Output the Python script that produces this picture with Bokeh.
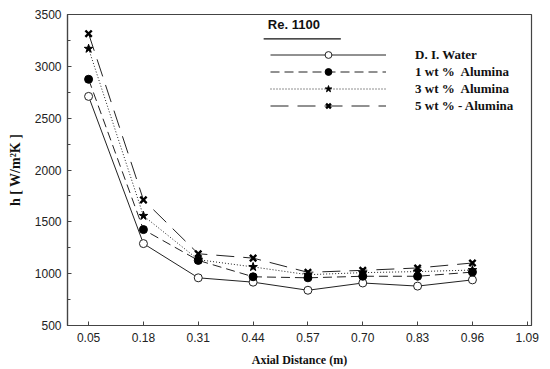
from bokeh.plotting import figure
from bokeh.models import (Range1d, FixedTicker, Legend, LegendItem, Label,
                          BoxAnnotation, PrintfTickFormatter)
from bokeh.embed import file_html
from bokeh.resources import INLINE

# ---- data ----
x_dist = [0.05, 0.18, 0.31, 0.44, 0.57, 0.70, 0.83, 0.96]
di_water = [2710, 1290, 960, 918, 840, 910, 880, 940]
alumina_1 = [2875, 1425, 1128, 970, 960, 975, 975, 1015]
alumina_3 = [3170, 1558, 1135, 1065, 990, 1010, 1020, 1035]
alumina_5 = [3315, 1712, 1192, 1150, 1013, 1032, 1055, 1103]
series_names = ["D. I. Water", "1 wt %  Alumina", "3 wt %  Alumina", "5 wt % - Alumina"]
x_ticks = [0.05, 0.18, 0.31, 0.44, 0.57, 0.70, 0.83, 0.96, 1.09]
y_ticks = [500, 1000, 1500, 2000, 2500, 3000, 3500]
title_text = "Re. 1100"

p = figure(width=550, height=369, output_backend="svg", toolbar_location=None,
           x_range=Range1d(0.0, 1.1), y_range=Range1d(500, 3500),
           min_border_left=67, min_border_right=19, min_border_top=14,
           min_border_bottom=43)

p.xgrid.visible = False
p.ygrid.visible = False
p.outline_line_color = "#444444"
p.outline_line_width = 1.2
p.background_fill_color = "white"

for ax in (p.xaxis[0], p.yaxis[0]):
    ax.axis_line_color = "#444444"
    ax.axis_line_width = 1.2
    ax.major_tick_line_color = "#444444"
    ax.minor_tick_line_color = "#444444"
    ax.major_tick_in = 4
    ax.major_tick_out = 0
    ax.minor_tick_in = 3
    ax.minor_tick_out = 0
    ax.major_label_text_font = "Liberation Sans"
    ax.major_label_text_font_size = "12px"
    ax.major_label_text_color = "#222222"
    ax.axis_label_text_font = "Liberation Serif"
    ax.axis_label_text_font_style = "bold"
    ax.axis_label_text_color = "#111111"

p.xaxis.ticker = FixedTicker(ticks=x_ticks)
p.xaxis.formatter = PrintfTickFormatter(format="%.2f")
p.xaxis.major_label_standoff = 7
p.xaxis.axis_label = "Axial Distance (m)"
p.xaxis.axis_label_text_font_size = "12px"
p.xaxis.axis_label_standoff = 8

minor_y = [v + 250 for v in y_ticks[:-1]]
p.yaxis.ticker = FixedTicker(ticks=y_ticks, minor_ticks=minor_y)
p.yaxis.major_label_standoff = 6
p.yaxis.axis_label = "h [ W/m\u00b2K ]"
p.yaxis.axis_label_text_font_size = "14px"
p.yaxis.axis_label_standoff = 9

lc = "#222222"
r0l = p.line(x_dist, di_water, line_color=lc, line_width=1)
r0m = p.scatter(x_dist, di_water, marker="circle", size=8, fill_color="white",
                line_color=lc, line_width=1)
r1l = p.line(x_dist, alumina_1, line_color=lc, line_width=1, line_dash="9 5")
r1m = p.scatter(x_dist, alumina_1, marker="circle", size=8, fill_color="black",
                line_color="black")
r2l = p.line(x_dist, alumina_3, line_color=lc, line_width=1, line_dash="1 2")
r2m = p.scatter(x_dist, alumina_3, marker="star", size=9, fill_color="black",
                line_color="black")
r3l = p.line(x_dist, alumina_5, line_color=lc, line_width=1, line_dash="18 9")
r3m = p.scatter(x_dist, alumina_5, marker="x", size=9, line_color="black",
                line_width=2.4)

legend = Legend(items=[
    LegendItem(label=series_names[0], renderers=[r0l, r0m]),
    LegendItem(label=series_names[1], renderers=[r1l, r1m]),
    LegendItem(label=series_names[2], renderers=[r2l, r2m]),
    LegendItem(label=series_names[3], renderers=[r3l, r3m]),
], location=(203, 211))
legend.glyph_width = 116
legend.glyph_height = 17
legend.label_height = 17
legend.spacing = 0
legend.padding = 0
legend.margin = 0
legend.label_standoff = 29
legend.border_line_color = None
legend.background_fill_alpha = 0
legend.label_text_font = "Liberation Serif"
legend.label_text_font_style = "bold"
legend.label_text_font_size = "13px"
legend.label_text_color = "#111111"
p.add_layout(legend, "center")

p.add_layout(Label(x=0.475, y=3330, text=title_text, text_font="Liberation Sans",
                   text_font_style="bold", text_font_size="13px",
                   text_color="#111111", text_align="left"))
p.add_layout(BoxAnnotation(left=0.465, right=0.648, bottom=3258, top=3272,
                           fill_color="#111111", fill_alpha=1, line_color=None))

open("out.html", "w").write(file_html(p, INLINE))
